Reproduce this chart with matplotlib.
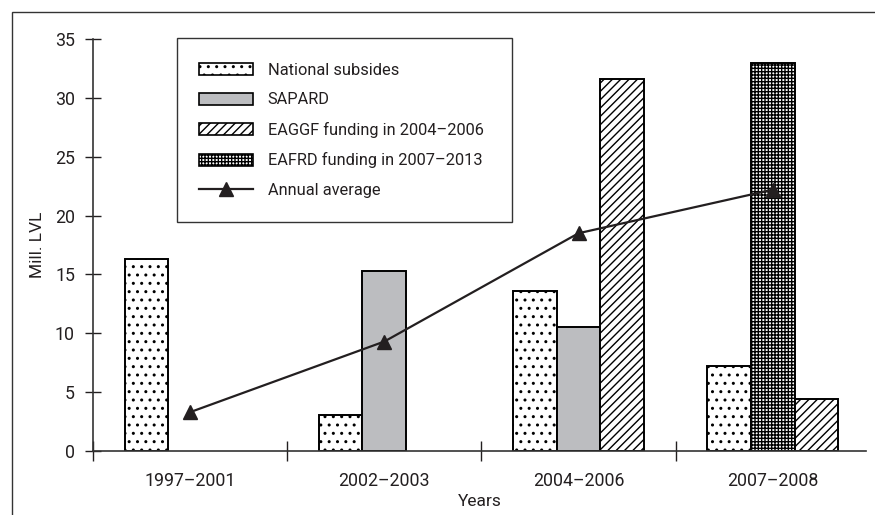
import numpy as np
import matplotlib
matplotlib.use('Agg')
import matplotlib.pyplot as plt
from matplotlib.patches import Rectangle

plt.rcParams['font.family'] = ['Roboto', 'DejaVu Sans']
plt.rcParams['hatch.linewidth'] = 1.0

# --- Data ---
periods = ['1997\u20132001', '2002\u20132003', '2004\u20132006', '2007\u20132008']
national = [16.3, 3.1, 13.6, 7.2]
sapard = [0, 15.3, 10.5, 0]
eaggf = [0, 0, 31.6, 4.4]
eafrd = [0, 0, 0, 33.0]
annual_avg = [3.3, 9.3, 18.5, 22.2]

TEXT = '#231f20'
x = np.arange(len(periods))
w = 0.225

fig = plt.figure(figsize=(8.75, 5.15), dpi=100)
ax = fig.add_axes([93 / 875, 1 - 451 / 515, 773 / 875, 412 / 515])


def draw_bars(xpos, vals, **kw):
    vals = np.array(vals, dtype=float)
    keep = vals > 0
    ax.bar(xpos[keep], vals[keep], width=w, edgecolor='black', linewidth=1.4, zorder=2, **kw)


draw_bars(x - w, national, color='white', hatch='..')
draw_bars(x, sapard, color='#bcbdc0')
draw_bars(x, eafrd, color='white', hatch='+++++')
draw_bars(x + w, eaggf, color='white', hatch='////')

ax.plot(x, annual_avg, color='#231f20', linewidth=1.6, marker='^', markersize=10.5, zorder=3)

ax.set_xlim(-0.5, 3.48)
ax.set_ylim(0, 35)
ax.set_yticks(range(0, 36, 5))
ax.set_xticks([-0.5, 0.5, 1.5, 2.5])
ax.set_xticklabels([])
ax.set_xticks(x, minor=True)
ax.set_xticklabels(periods, minor=True)
ax.tick_params(axis='y', direction='inout', length=12, width=1, pad=7, labelsize=12.8, colors=TEXT)
ax.tick_params(axis='x', which='major', direction='inout', length=15, width=1, colors=TEXT)
ax.tick_params(axis='x', which='minor', length=0, pad=15, labelsize=12.8, colors=TEXT)

for side in ['top', 'right']:
    ax.spines[side].set_visible(False)
for side in ['left', 'bottom']:
    ax.spines[side].set_color('#333333')
    ax.spines[side].set_linewidth(1.2)

ax.set_ylabel('Mill. LVL', fontsize=12.5, color=TEXT, labelpad=7)
ax.set_xlabel('Years', fontsize=12.5, color=TEXT, labelpad=3)

# --- Legend ---
handles = [
    Rectangle((0, 0), 1, 1, facecolor='white', edgecolor='black', hatch='..', linewidth=1.2),
    Rectangle((0, 0), 1, 1, facecolor='#bcbdc0', edgecolor='black', linewidth=1.2),
    Rectangle((0, 0), 1, 1, facecolor='white', edgecolor='black', hatch='////', linewidth=1.2),
    Rectangle((0, 0), 1, 1, facecolor='white', edgecolor='black', hatch='+++++', linewidth=1.2),
    plt.Line2D([], [], color='#231f20', linewidth=1.6, marker='^', markersize=10.5),
]
labels = ['National subsides', 'SAPARD', 'EAGGF funding in 2004\u20132006',
          'EAFRD funding in 2007\u20132013', 'Annual average']
leg = ax.legend(handles, labels, loc='upper left', bbox_to_anchor=(199 / 875, 1 - 63 / 515),
                bbox_transform=fig.transFigure, frameon=False, fontsize=11.8, handlelength=3.3,
                handleheight=0.75, handletextpad=0.9, labelspacing=0.88, borderpad=0, borderaxespad=0)
for t in leg.get_texts():
    t.set_color(TEXT)
fig.patches.append(Rectangle((177 / 875, 1 - 222 / 515), 335 / 875, 184 / 515, transform=fig.transFigure,
                             fill=False, edgecolor='#333333', linewidth=1.0, zorder=5))

# outer frame, cut at right and bottom
fig.patches.append(Rectangle((12 / 875, -0.1), 1.2, 1 - 12 / 515 + 0.1, transform=fig.transFigure,
                             fill=False, edgecolor='#333333', linewidth=1.0))

fig.savefig('out.png', dpi=100)
